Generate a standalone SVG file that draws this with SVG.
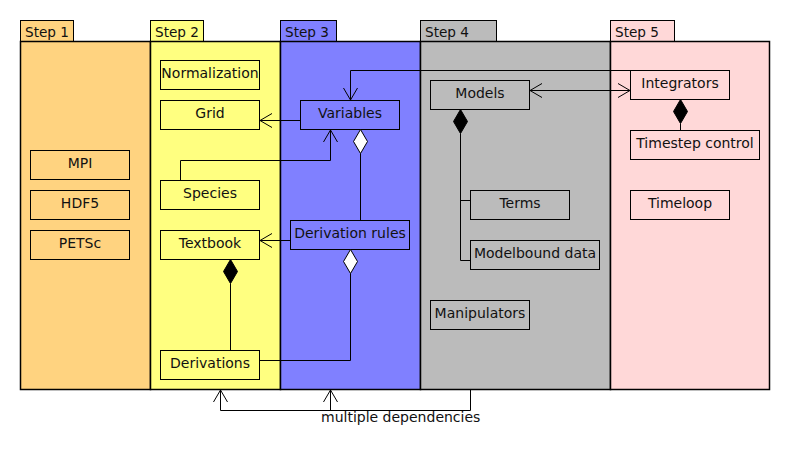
<svg xmlns="http://www.w3.org/2000/svg" width="790" height="460" viewBox="0 0 790 460">
<style>
text{font-family:"DejaVu Sans","Liberation Sans",sans-serif;fill:#111}
.tab text{font-size:13.6px}
.pkg{stroke:#000;stroke-width:1.5}
.tabr{stroke:#000;stroke-width:1}
.node rect{stroke:#000;stroke-width:1}
.node text{font-size:14px;text-anchor:middle}
.c{fill:none;stroke:#000;stroke-width:1}
.dia{stroke:#000;stroke-width:1}
</style>
<defs>
<marker id="arr" viewBox="-14 -8 15 16" refX="0" refY="0" markerWidth="15" markerHeight="16" markerUnits="userSpaceOnUse" orient="auto-start-reverse">
<path d="M-12,-7 L0,0 L-12,7" fill="none" stroke="#000" stroke-width="1"/>
</marker>
</defs>
<g id="packages">
<g id="step1" class="tab"><rect class="tabr" x="20.5" y="20.5" width="53" height="21" fill="#FFD380"/><rect class="pkg" x="20.5" y="41.5" width="130" height="348" fill="#FFD380"/><text x="25" y="36.5">Step 1</text></g>
<g id="step2" class="tab"><rect class="tabr" x="150.5" y="20.5" width="53" height="21" fill="#FFFF80"/><rect class="pkg" x="150.5" y="41.5" width="130" height="348" fill="#FFFF80"/><text x="155" y="36.5">Step 2</text></g>
<g id="step3" class="tab"><rect class="tabr" x="280.5" y="20.5" width="56" height="21" fill="#8080FF"/><rect class="pkg" x="280.5" y="41.5" width="140" height="348" fill="#8080FF"/><text x="285" y="36.5">Step 3</text></g>
<g id="step4" class="tab"><rect class="tabr" x="420.5" y="20.5" width="76" height="21" fill="#BBBBBB"/><rect class="pkg" x="420.5" y="41.5" width="190" height="348" fill="#BBBBBB"/><text x="425" y="36.5">Step 4</text></g>
<g id="step5" class="tab"><rect class="tabr" x="610.5" y="20.5" width="64" height="21" fill="#FFD8D8"/><rect class="pkg" x="610.5" y="41.5" width="159" height="348" fill="#FFD8D8"/><text x="615" y="36.5">Step 5</text></g>
</g>
<g id="MPI" class="node"><rect x="30.5" y="150.5" width="99" height="29" fill="#FFD380"/><text x="80" y="168">MPI</text></g>
<g id="HDF5" class="node"><rect x="30.5" y="190.5" width="99" height="29" fill="#FFD380"/><text x="80" y="208">HDF5</text></g>
<g id="PETSc" class="node"><rect x="30.5" y="230.5" width="99" height="29" fill="#FFD380"/><text x="80" y="248">PETSc</text></g>
<g id="Normalization" class="node"><rect x="160.5" y="60.5" width="99" height="29" fill="#FFFF80"/><text x="210" y="78">Normalization</text></g>
<g id="Grid" class="node"><rect x="160.5" y="100.5" width="99" height="29" fill="#FFFF80"/><text x="210" y="118">Grid</text></g>
<g id="Species" class="node"><rect x="160.5" y="180.5" width="99" height="29" fill="#FFFF80"/><text x="210" y="198">Species</text></g>
<g id="Textbook" class="node"><rect x="160.5" y="230.5" width="99" height="29" fill="#FFFF80"/><text x="210" y="248">Textbook</text></g>
<g id="Derivations" class="node"><rect x="160.5" y="350.5" width="99" height="29" fill="#FFFF80"/><text x="210" y="368">Derivations</text></g>
<g id="Variables" class="node"><rect x="300.5" y="100.5" width="99" height="29" fill="#8080FF"/><text x="350" y="118">Variables</text></g>
<g id="DerivationRules" class="node"><rect x="290.5" y="220.5" width="119" height="29" fill="#8080FF"/><text x="350" y="238">Derivation rules</text></g>
<g id="Models" class="node"><rect x="430.5" y="80.5" width="99" height="29" fill="#BBBBBB"/><text x="480" y="98">Models</text></g>
<g id="Terms" class="node"><rect x="470.5" y="190.5" width="99" height="29" fill="#BBBBBB"/><text x="520" y="208">Terms</text></g>
<g id="ModelboundData" class="node"><rect x="470.5" y="240.5" width="129" height="29" fill="#BBBBBB"/><text x="535" y="258">Modelbound data</text></g>
<g id="Manipulators" class="node"><rect x="430.5" y="300.5" width="99" height="29" fill="#BBBBBB"/><text x="480" y="318">Manipulators</text></g>
<g id="Integrators" class="node"><rect x="630.5" y="70.5" width="99" height="29" fill="#FFD8D8"/><text x="680" y="88">Integrators</text></g>
<g id="TimestepControl" class="node"><rect x="630.5" y="130.5" width="129" height="29" fill="#FFD8D8"/><text x="695" y="148">Timestep control</text></g>
<g id="Timeloop" class="node"><rect x="630.5" y="190.5" width="99" height="29" fill="#FFD8D8"/><text x="680" y="208">Timeloop</text></g>
<g id="connectors">
<path class="c" d="M300,120.5 H260" marker-end="url(#arr)"/>
<path class="c" d="M630,70.5 H350.5 V100" marker-end="url(#arr)"/>
<path class="c" d="M530,90.5 H630" marker-start="url(#arr)" marker-end="url(#arr)"/>
<polygon class="dia" points="460.5,109.5 467.5,121.5 460.5,133.5 453.5,121.5" fill="#000"/>
<path class="c" d="M460.5,133.5 V260.5 H470 M460.5,200.5 H470"/>
<polygon class="dia" points="680.5,99.5 687.5,111.5 680.5,123.5 673.5,111.5" fill="#000"/>
<path class="c" d="M680.5,123.5 V130"/>
<polygon class="dia" points="360.5,129.5 367.5,141.5 360.5,153.5 353.5,141.5" fill="#fff"/>
<path class="c" d="M360.5,153.5 V220"/>
<path class="c" d="M180.5,180 V160.5 H330.5 V130" marker-end="url(#arr)"/>
<path class="c" d="M290,240.5 H260" marker-end="url(#arr)"/>
<polygon class="dia" points="230.5,259.5 237.5,271.5 230.5,283.5 223.5,271.5" fill="#000"/>
<path class="c" d="M230.5,283.5 V350"/>
<polygon class="dia" points="350.5,249.5 357.5,261.5 350.5,273.5 343.5,261.5" fill="#fff"/>
<path class="c" d="M350.5,273.5 V360.5 H260"/>
<path class="c" d="M470.5,390 V410.5 H220.5 V390" marker-end="url(#arr)"/>
<path class="c" d="M330.5,410.5 V390" marker-end="url(#arr)"/>
<text x="321" y="422" font-size="14">multiple dependencies</text>
</g>
</svg>
